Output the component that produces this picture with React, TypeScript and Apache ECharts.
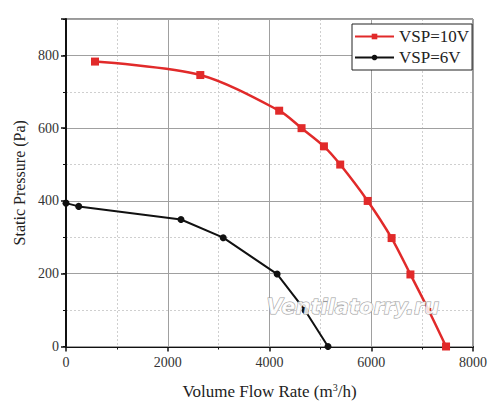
import React, { useEffect, useRef } from "react";
import * as echarts from "echarts";

const seriesNames = ["VSP=10V", "VSP=6V"];
const flow10V = [570, 2640, 4190, 4630, 5070, 5390, 5930, 6400, 6770, 7130, 7470];
const pressure10V = [783, 746, 648, 600, 550, 500, 400, 298, 198, 99, 0];
const flow6V = [0, 250, 2260, 3090, 4150, 4700, 5150];
const pressure6V = [394, 385, 349, 299, 199, 99, 0];
const xTicks = [0, 2000, 4000, 6000, 8000];
const yTicks = [0, 200, 400, 600, 800];

const FONT = "Liberation Serif";

export default function App() {
  const ref = useRef<HTMLDivElement>(null);
  useEffect(() => {
    if (!ref.current) return;
    const chart = echarts.init(ref.current, undefined, { renderer: "svg" });
    const red = "#e12a2a";
    const d10 = flow10V.map((x, i) => ({
      value: [x, pressure10V[i]],
      symbolSize: i === 9 ? 5 : 8,
    }));
    const d6 = flow6V.map((x, i) => [x, pressure6V[i]]);
    chart.setOption({
      animation: false,
      backgroundColor: "#fff",
      grid: {
        left: 66,
        right: 27,
        top: 19,
        bottom: 71.5,
        show: true,
        borderColor: "#333",
        borderWidth: 1,
        backgroundColor: "transparent",
      },
      legend: {
        orient: "vertical",
        left: 352,
        top: 24,
        data: seriesNames,
        itemWidth: 39,
        itemHeight: 7,
        itemGap: 4,
        padding: [4, 3, 4, 2],
        borderColor: "#222",
        borderWidth: 1,
        borderRadius: 0,
        backgroundColor: "#fff",
        textStyle: { fontFamily: FONT, fontSize: 17, color: "#222" },
      },
      xAxis: [
        {
          type: "value",
          min: 0,
          max: 8000,
          interval: 2000,
          position: "bottom",
          name: "Volume Flow Rate (m{sup|3}/h)",
          nameLocation: "middle",
          nameGap: 36,
          nameTextStyle: {
            fontFamily: FONT,
            fontSize: 17,
            color: "#222",
            rich: { sup: { fontFamily: FONT, fontSize: 10, verticalAlign: "top", padding: [0, 0, 8, 0], color: "#222" } },
          },
          axisLine: { show: true, lineStyle: { color: "#111", width: 2 } },
          axisTick: { show: true, length: 5, lineStyle: { color: "#111", width: 1.5 } },
          minorTick: { show: true, splitNumber: 2, length: 3, lineStyle: { color: "#111", width: 1 } },
          axisLabel: {
            fontFamily: FONT,
            fontSize: 14,
            color: "#333",
            margin: 9,
            formatter: (v: number) => (xTicks.indexOf(v) >= 0 ? String(v) : ""),
          },
          splitLine: { show: true, lineStyle: { color: "#a0a0a0", width: 1 } },
          minorSplitLine: { show: true, lineStyle: { color: "#cfcfcf", width: 1, type: [2, 2] } },
        },
      ],
      yAxis: [
        {
          type: "value",
          min: 0,
          max: 900,
          interval: 200,
          position: "left",
          name: "Static Pressure (Pa)",
          nameLocation: "middle",
          nameGap: 34,
          nameTextStyle: { fontFamily: FONT, fontSize: 16, color: "#222" },
          axisLine: { show: true, lineStyle: { color: "#111", width: 2 } },
          axisTick: { show: true, length: 5, lineStyle: { color: "#111", width: 1.5 } },
          axisLabel: {
            fontFamily: FONT,
            fontSize: 14,
            color: "#333",
            margin: 7,
            formatter: (v: number) => (yTicks.indexOf(v) >= 0 ? String(v) : ""),
          },
          splitLine: { show: true, lineStyle: { color: "#a0a0a0", width: 1 } },
          z: 3,
        },
        {
          type: "value",
          min: 0,
          max: 900,
          interval: 100,
          position: "left",
          axisLine: { show: false },
          axisTick: { show: true, length: 3, lineStyle: { color: "#111", width: 1 } },
          axisLabel: { show: false },
          splitLine: { show: true, lineStyle: { color: "#cfcfcf", width: 1, type: [2, 2] } },
          z: 1,
        },
      ],
      graphic: [
        {
          type: "text",
          left: 266,
          top: 296,
          z: 5,
          style: {
            text: "Ventilatorry.ru",
            fontFamily: "DejaVu Sans",
            fontStyle: "italic",
            fontWeight: "bold",
            fontSize: 21,
            fill: "rgba(255,255,255,0.85)",
            stroke: "#9a9a9a",
            lineWidth: 1,
          },
        },
      ],
      series: [
        {
          name: seriesNames[0],
          type: "line",
          data: d10,
          smooth: 0.3,
          symbol: "rect",
          symbolSize: 8,
          itemStyle: { color: red },
          lineStyle: { color: red, width: 2.5 },
          z: 4,
        },
        {
          name: seriesNames[1],
          type: "line",
          data: d6,
          smooth: false,
          symbol: "circle",
          symbolSize: 7,
          itemStyle: { color: "#111" },
          lineStyle: { color: "#111", width: 2 },
          z: 4,
        },
      ],
    });
    return () => chart.dispose();
  }, []);
  return <div ref={ref} style={{ width: 500, height: 418, position: "absolute", left: 0, top: 0 }} />;
}
